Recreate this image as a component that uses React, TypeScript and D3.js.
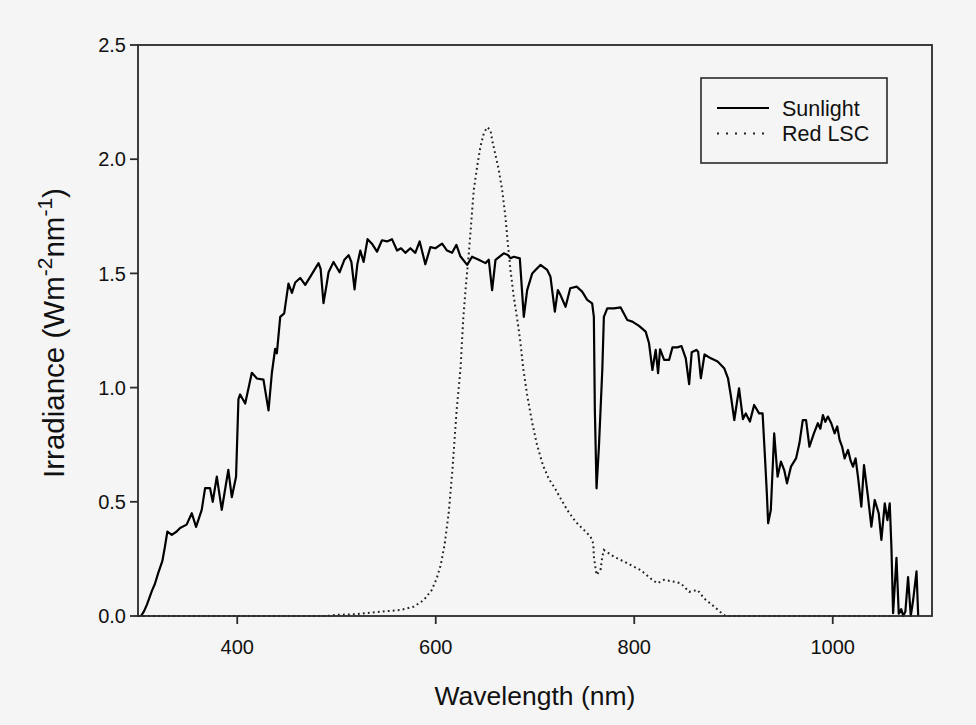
import React from "react";
import * as d3 from "d3";

// Sunlight spectrum (wavelength nm, irradiance W m^-2 nm^-1)
const sunWavelength = [
  303, 306, 309, 314, 317, 320.5, 324.5, 327, 329.6, 334, 339, 342.4, 349, 354.2, 358.5, 364.2, 367.6, 372.6,
  375.3, 379.4, 384.4, 391, 394.5, 398.8, 401.2, 402.9, 408, 414.7, 419.8, 426.4, 431.5, 434.9, 438.2, 439.9,
  443.3, 447.3, 451.6, 455.1, 458.4, 463.4, 468.5, 473.5, 481.9, 484, 486.9, 490, 492, 497, 503.1, 508, 512.2,
  515, 518.2, 521, 524, 527.3, 531.3, 535.7, 540.8, 545.8, 550.9, 555.9, 561, 565, 569.4, 574.4, 579.4, 583.8,
  589.5, 594.6, 599.6, 606.4, 611.4, 616.5, 620.8, 624.8, 631.6, 636.6, 643.3, 650.1, 653.4, 656.8, 660.2,
  668.5, 672.6, 675.3, 678.6, 684.7, 688.7, 692.1, 697.2, 700.5, 705.5, 712.3, 715.6, 720, 723, 725.7, 730.8,
  735.5, 742, 747.5, 752.6, 757.6, 759.3, 760.3, 762, 764.4, 767.8, 769.4, 772.8, 779.5, 786.3, 793, 798.1,
  804.8, 811.5, 814.9, 818.3, 821.6, 824, 826, 830.1, 835.1, 838.5, 843.5, 847.6, 851.9, 855.3, 857.9, 862.5,
  864.4, 867.1, 870.8, 877.2, 884, 890.6, 894.5, 897.5, 900.8, 905.6, 909.5, 912.4, 916.5, 920.8, 925.8, 929.3,
  931.5, 933.6, 934.9, 937.6, 941, 944.4, 947.8, 951.1, 953.9, 957.9, 963, 966.4, 969.8, 973.1, 976.5, 981,
  985, 987.5, 990.1, 992.5, 995.1, 998.5, 1001.9, 1004.5, 1006.9, 1009.5, 1012, 1015.4, 1018, 1020.4, 1023,
  1025.4, 1028.8, 1031.5, 1035.5, 1038.9, 1042.3, 1046.3, 1049, 1052.4, 1055.1, 1057.4, 1059.1, 1060.8, 1064.2,
  1066.5, 1069, 1071, 1073.2, 1075.9, 1078.6, 1081, 1084.4, 1086.1,
];
const sunIrradiance = [
  0, 0.02, 0.05, 0.11, 0.14, 0.19, 0.24, 0.3, 0.37, 0.355, 0.37, 0.385, 0.4, 0.45, 0.39, 0.465, 0.56, 0.56,
  0.5, 0.61, 0.465, 0.64, 0.52, 0.61, 0.95, 0.97, 0.93, 1.065, 1.04, 1.035, 0.9, 1.065, 1.17, 1.15,
  1.31, 1.325, 1.455, 1.415, 1.46, 1.48, 1.45, 1.485, 1.545, 1.52, 1.37, 1.45, 1.505, 1.55, 1.505, 1.56, 1.58,
  1.55, 1.43, 1.54, 1.6, 1.55, 1.65, 1.63, 1.595, 1.645, 1.64, 1.65, 1.6, 1.61, 1.59, 1.61, 1.59, 1.64,
  1.54, 1.615, 1.61, 1.63, 1.6, 1.59, 1.625, 1.575, 1.537, 1.573, 1.56, 1.545, 1.56, 1.427, 1.559,
  1.588, 1.581, 1.566, 1.573, 1.566, 1.31, 1.427, 1.5, 1.515, 1.537, 1.515, 1.485, 1.333, 1.427, 1.405, 1.354,
  1.435, 1.442, 1.42, 1.384, 1.369, 1.31, 0.902, 0.559, 0.741, 1.077, 1.31, 1.347, 1.347, 1.351, 1.296, 1.289,
  1.27, 1.245, 1.194, 1.077, 1.165, 1.063, 1.168, 1.121, 1.121, 1.176, 1.176, 1.182, 1.128, 1.015, 1.155, 1.165,
  1.157, 1.041, 1.145, 1.128, 1.114, 1.085, 1.04, 0.96, 0.858, 0.997, 0.862, 0.887, 0.851, 0.924, 0.887, 0.887,
  0.712, 0.537, 0.406, 0.464, 0.8, 0.61, 0.676, 0.639, 0.581, 0.654, 0.69, 0.756, 0.858, 0.858, 0.741, 0.8,
  0.844, 0.82, 0.88, 0.85, 0.873, 0.844, 0.8, 0.83, 0.771, 0.74, 0.69, 0.727, 0.68, 0.654, 0.69,
  0.61, 0.479, 0.661, 0.522, 0.391, 0.508, 0.45, 0.333, 0.493, 0.42, 0.493, 0.303, 0.012, 0.255,
  0.01, 0.03, 0, 0.02, 0.17, 0, 0.07, 0.195, 0,
];

// Red LSC emission spectrum
const lscWavelength = [
  300, 490, 500, 520, 544, 564, 578, 588, 596, 601, 605, 609, 613, 617, 621, 625, 627.6, 630, 633.3, 635.7,
  638.3, 641.7, 645, 648.4, 651.8, 655.1, 656.8, 660.2, 663.5, 666.9, 670.2, 672.6, 675.3, 678.6, 682.7, 685.4,
  688.1, 692, 697, 702, 708, 714, 720, 725.7, 732.5, 740.9, 749.2, 756, 758.7, 759.3, 762, 766, 767.8, 769.4,
  779.5, 793, 806.4, 818.3, 823.3, 830.1, 840.2, 846.9, 855.3, 863.7, 870.4, 880.5, 889, 892, 1060,
];
const lscIrradiance = [
  0, 0, 0.005, 0.008, 0.019, 0.026, 0.041, 0.07, 0.114, 0.165, 0.223, 0.315, 0.45, 0.65, 0.9, 1.085, 1.296,
  1.427, 1.588, 1.719, 1.865, 1.967, 2.055, 2.113, 2.14, 2.128, 2.084, 2.018, 1.953, 1.865, 1.748, 1.632, 1.515,
  1.398, 1.282, 1.194, 1.085, 0.97, 0.85, 0.75, 0.66, 0.6, 0.56, 0.515, 0.464, 0.413, 0.377, 0.347, 0.318, 0.26,
  0.18, 0.201, 0.26, 0.289, 0.26, 0.231, 0.201, 0.158, 0.143, 0.158, 0.15, 0.143, 0.106, 0.114, 0.077, 0.041,
  0.009, 0, 0,
];

const xTicks = [400, 600, 800, 1000];
const yTicks = [0, 0.5, 1.0, 1.5, 2.0, 2.5];
const seriesNames = ["Sunlight", "Red LSC"];

const W = 976;
const H = 725;
const FONT = "'Liberation Sans', Arial, sans-serif";

export default function App() {
  const x = d3.scaleLinear().domain([300, 1100]).range([138, 932]);
  const y = d3.scaleLinear().domain([0, 2.5]).range([616, 45]);

  const sun = sunWavelength.map((w, i) => [w, sunIrradiance[i]] as [number, number]);
  const lsc = lscWavelength.map((w, i) => [w, lscIrradiance[i]] as [number, number]);
  const line = d3
    .line<[number, number]>()
    .x((d) => x(d[0]))
    .y((d) => y(d[1]));

  const [x0, x1] = x.range();
  const [yb, yt] = y.range();
  const axisColor = "#2a2a2a";

  return (
    <svg
      width={W}
      height={H}
      style={{ position: "absolute", left: 0, top: 0 }}
      fontFamily={FONT}
    >
      <rect x={0} y={0} width={W} height={H} fill="#f5f5f5" />

      {/* data */}
      <path
        d={line(lsc) || ""}
        fill="none"
        stroke="#222"
        strokeWidth={2}
        strokeDasharray="1.8 3.2"
      />
      <path
        d={line(sun) || ""}
        fill="none"
        stroke="#000"
        strokeWidth={2.2}
        strokeLinejoin="round"
      />

      {/* frame */}
      <rect
        x={x0}
        y={yt}
        width={x1 - x0}
        height={yb - yt}
        fill="none"
        stroke={axisColor}
        strokeWidth={1.8}
      />

      {/* x ticks */}
      {xTicks.map((t) => (
        <g key={"x" + t}>
          <line x1={x(t)} x2={x(t)} y1={yb} y2={yb + 8} stroke={axisColor} strokeWidth={1.8} />
          <text x={x(t)} y={654} textAnchor="middle" fontSize={20} fill="#111">
            {t}
          </text>
        </g>
      ))}

      {/* y ticks */}
      {yTicks.map((t) => (
        <g key={"y" + t}>
          <line x1={x0 - 8} x2={x0} y1={y(t)} y2={y(t)} stroke={axisColor} strokeWidth={1.8} />
          <text
            x={126}
            y={y(t)}
            dy="0.36em"
            textAnchor="end"
            fontSize={20}
            fill="#111"
          >
            {t.toFixed(1)}
          </text>
        </g>
      ))}

      {/* axis titles */}
      <text x={(x0 + x1) / 2} y={705} textAnchor="middle" fontSize={26.5} fill="#111">
        Wavelength (nm)
      </text>
      <text
        transform={`translate(64, 333) rotate(-90)`}
        textAnchor="middle"
        fontSize={29.5}
        fill="#111"
      >
        Irradiance (Wm
        <tspan fontSize={21} dy={-12}>-2</tspan>
        <tspan dy={12}>nm</tspan>
        <tspan fontSize={21} dy={-12}>-1</tspan>
        <tspan dy={12}>)</tspan>
      </text>

      {/* legend */}
      <rect x={701} y={78} width={186} height={85} fill="none" stroke={axisColor} strokeWidth={1.6} />
      <line x1={717} x2={769} y1={108} y2={108} stroke="#000" strokeWidth={2.2} />
      <line
        x1={717}
        x2={769}
        y1={133.5}
        y2={133.5}
        stroke="#222"
        strokeWidth={2}
        strokeDasharray="2 7"
      />
      <text x={782} y={115.5} fontSize={21.5} fill="#111">
        {seriesNames[0]}
      </text>
      <text x={782} y={141} fontSize={21.5} fill="#111">
        {seriesNames[1]}
      </text>
    </svg>
  );
}
